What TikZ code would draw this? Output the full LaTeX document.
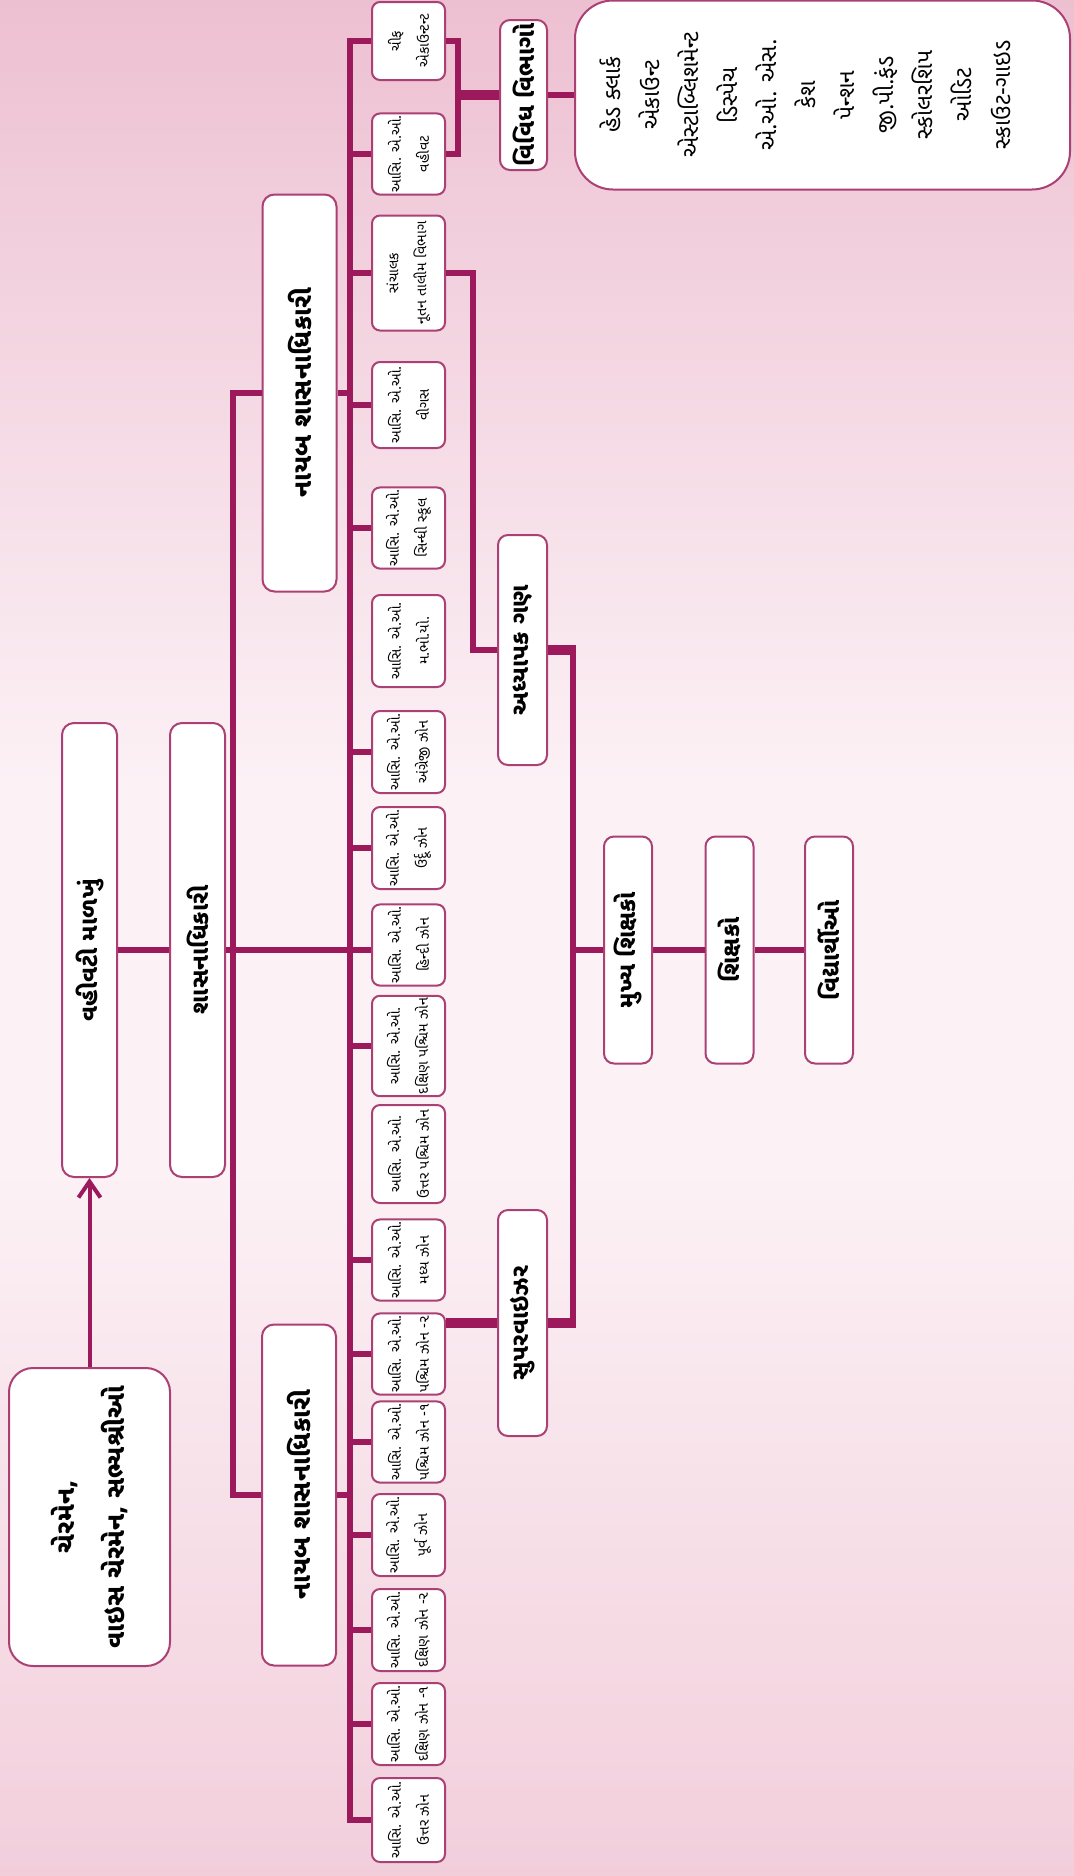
\documentclass[tikz,border=0pt]{standalone}
\usepackage{fontspec}
\newfontfamily\guj[Script=Gujarati]{Noto Sans Gujarati UI}
\usetikzlibrary{arrows.meta}
\usetikzlibrary{calc}

\definecolor{lineCol}{RGB}{156,26,92}
\definecolor{edgeCol}{RGB}{170,64,115}
\definecolor{bgTop}{RGB}{237,192,209}
\definecolor{bgMid}{RGB}{252,242,246}
\definecolor{bgBot}{RGB}{242,206,219}

\begin{document}
\begin{tikzpicture}
    [x=0.5pt, y=-0.5pt,
     boxBase/.style={draw=edgeCol, line width=1pt, fill=white, rotate=90, inner sep=1pt, align=center},
     boxSmall/.style={boxBase, rounded corners=4pt, minimum height=36.5pt, minimum width=40pt, font={\guj\fontsize{7.2}{14}\selectfont}},
     boxMid/.style={boxBase, rounded corners=5pt, font={\guj\bfseries\fontsize{12}{14}\selectfont}},
     boxLarge/.style={boxBase, rounded corners=6pt, font={\guj\bfseries\fontsize{13}{25}\selectfont}},
     lineMain/.style={draw=lineCol, line width=2.9pt},
     lineThick/.style={draw=lineCol, line width=4.6pt},
     lineArrow/.style={draw=lineCol, line width=2pt, -{Straight Barb[length=8pt,width=11pt]}},
    ]

    \shade[top color=bgTop, bottom color=bgMid] (0,0) rectangle (1074,800);
    \fill[bgMid] (0,800) rectangle (1074,1150);
    \shade[top color=bgMid, bottom color=bgBot] (0,1150) rectangle (1074,1876);
    \useasboundingbox (0,0) rectangle (1074,1876);

    % top of the chart
    \node[boxLarge, rounded corners=12pt, minimum width=149pt, minimum height=80.5pt] (chair) at (89.5,1517) {ચેરમેન,\\વાઇસ ચેરમેન, સભ્યશ્રીઓ};
    \node[boxMid, rounded corners=6pt, minimum width=227pt, minimum height=27.5pt] (admin) at (89.5,950) {વહીવટી માળખું};
    \node[boxMid, rounded corners=6pt, minimum width=227pt, minimum height=27.5pt] (sasan) at (197.5,950) {શાસનાધિકારી};
    \node[boxLarge, minimum width=170.5pt, minimum height=37pt] (naybL) at (299,1495) {નાયબ શાસનાધિકારી};
    \node[boxLarge, minimum width=198.5pt, minimum height=37pt] (naybR) at (299.5,393) {નાયબ શાસનાધિકારી};

    % assistant officers
    \node[boxSmall, minimum width=42pt] (z1) at (408.5,1820) {આસિ. એ.ઓ.\\ઉત્તર ઝોન};
    \node[boxSmall, minimum width=41pt] (z2) at (408.5,1724) {આસિ. એ.ઓ.\\દક્ષિણ ઝોન -૧};
    \node[boxSmall, minimum width=41pt] (z3) at (408.5,1630) {આસિ. એ.ઓ.\\દક્ષિણ ઝોન -૨};
    \node[boxSmall, minimum width=41pt] (z4) at (408.5,1535) {આસિ. એ.ઓ.\\પૂર્વ ઝોન};
    \node[boxSmall, minimum width=38pt] (z5) at (408.5,1442) {આસિ. એ.ઓ.\\પશ્ચિમ ઝોન -૧};
    \node[boxSmall, minimum width=39pt] (z6) at (408.5,1354) {આસિ. એ.ઓ.\\પશ્ચિમ ઝોન -૨};
    \node[boxSmall] (z7) at (408.5,1260) {આસિ. એ.ઓ.\\મધ્ય ઝોન};
    \node[boxSmall, minimum width=49pt] (z8) at (408.5,1154) {આસિ. એ.ઓ.\\ઉત્તર પશ્ચિમ ઝોન};
    \node[boxSmall, minimum width=49pt] (z9) at (408.5,1046) {આસિ. એ.ઓ.\\દક્ષિણ પશ્ચિમ ઝોન};
    \node[boxSmall] (z10) at (408.5,945) {આસિ. એ.ઓ.\\હિન્દી ઝોન};
    \node[boxSmall, minimum width=41pt] (z11) at (408.5,848) {આસિ. એ.ઓ.\\ઉર્દૂ ઝોન};
    \node[boxSmall, minimum width=41pt] (z12) at (408.5,752) {આસિ. એ.ઓ.\\અંગ્રેજી ઝોન};
    \node[boxSmall, minimum width=46pt] (z13) at (408.5,641) {આસિ. એ.ઓ.\\મ.ભો.યો.};
    \node[boxSmall] (z14) at (408.5,528) {આસિ. એ.ઓ.\\સિન્ધી સ્કૂલ};
    \node[boxSmall, minimum width=43pt] (z15) at (408.5,405) {આસિ. એ.ઓ.\\વીગસ};
    \node[boxSmall, minimum width=57.5pt] (z16) at (408.5,273) {સંચાલક\\નૂતન તાલીમ વિભાગ};
    \node[boxSmall, minimum width=39pt] (z17) at (408.5,154) {આસિ. એ.ઓ.\\વહીવટ};
    \node[boxSmall, minimum width=39pt] (z18) at (408.5,41) {ચીફ\\એકાઉન્ટન્ટ};

    % lower levels
    \node[boxMid, minimum width=75pt, minimum height=23.5pt] (vividh) at (523.5,95) {વિવિધ વિભાગો};
    \node[boxMid, minimum width=115pt, minimum height=24.5pt] (adhy) at (522.5,650) {અધ્યાપક ગણ};
    \node[boxMid, minimum width=113pt, minimum height=24.5pt] (sup) at (522.5,1323) {સુપરવાઇઝર};
    \node[boxMid, minimum width=113.5pt, minimum height=24pt] (mukhya) at (628,950) {મુખ્ય શિક્ષકો};
    \node[boxMid, minimum width=113.5pt, minimum height=24pt] (shik) at (729.5,950) {શિક્ષકો};
    \node[boxMid, minimum width=113.5pt, minimum height=24pt] (vidya) at (829,950) {વિદ્યાર્થીઓ};
    \node[boxBase, rounded corners=19pt, minimum width=94.5pt, minimum height=247.5pt,
          font={\guj\fontsize{11.5}{19.5}\selectfont}] (list) at (822.5,95)
        {હેડ ક્લાર્ક\\એકાઉન્ટ\\એસ્ટાબ્લિશમેન્ટ\\ડિસ્પેચ\\એ.ઓ. એસ.\\કેશ\\પેન્શન\\જી.પી.ફંડ\\સ્કોલરશિપ\\ઓડિટ\\સ્કાઉટ-ગાઇડ\\[-2pt]\mbox{}};

    \coordinate (trunk) at (233,950);
    \coordinate (bus) at (350,950);
    \coordinate (railA) at (573,950);
    \coordinate (railB) at (473,650);
    \coordinate (railC) at (458,95);

    % connectors
    \draw[lineArrow] (chair) -- (admin);
    \draw[lineMain] (admin) -- (sasan);
    \draw[lineMain] (sasan.south) -- (sasan.south -| z10.north);
    \draw[lineMain] (naybR.north) -- (naybR.north -| trunk) -- (naybL.north -| trunk) -- (naybL.north);
    \draw[lineMain] (naybR.south) -- (naybR.south -| bus);
    \draw[lineMain] (naybL.south) -- (naybL.south -| bus);
    \draw[lineMain] (z18.north) -- (z18.north -| bus) -- (z1.north -| bus) -- (z1.north);
    \foreach \z in {z2,z3,z4,z5,z6,z7,z9,z11,z12,z14,z15,z16,z17}
        \draw[lineMain] (\z.north -| bus) -- (\z.north);

    \draw[lineThick] (z6.south |- sup) -- (sup.north);
    \draw[lineMain] (railA |- sup) -- (railA |- adhy);
    \draw[lineThick] (sup.south) -- ($(sup.south -| railA)+(3,0)$);
    \draw[lineThick] (adhy.south) -- ($(adhy.south -| railA)+(3,0)$);
    \draw[lineMain] (mukhya.north -| railA) -- (mukhya.north);
    \draw[lineMain] (mukhya) -- (shik);
    \draw[lineMain] (shik) -- (vidya);

    \draw[lineMain] (z16.south) -- (z16.south -| railB) -- (adhy.north -| railB) -- (adhy.north);
    \draw[lineMain] (z18.south) -- (z18.south -| railC) -- (z17.south -| railC) -- (z17.south);
    \draw[lineThick] (railC |- vividh) -- (vividh.north);
    \draw[lineMain] (vividh.south) -- (list.north);

\end{tikzpicture}
\end{document}
